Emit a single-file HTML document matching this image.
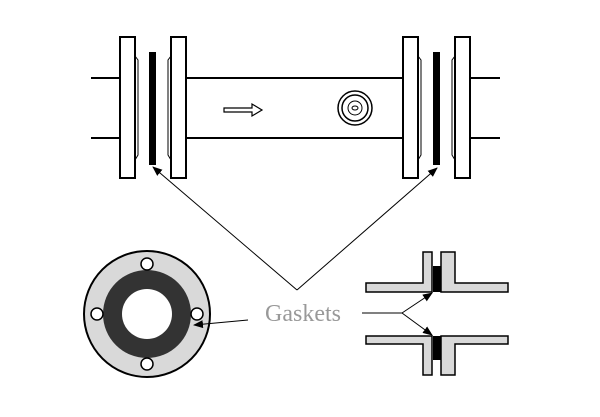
<!DOCTYPE html>
<html><head><style>body{margin:0;background:#fff}</style></head><body>
<svg width="600" height="412" viewBox="0 0 600 412" xmlns="http://www.w3.org/2000/svg">
<defs><marker id="a" markerWidth="10" markerHeight="8" refX="9" refY="4" orient="auto" markerUnits="userSpaceOnUse"><path d="M0,0 L10,4 L0,8 Z" fill="#000"/></marker></defs>
<g stroke="#000" stroke-width="2" fill="none">
<line x1="91" y1="78" x2="120" y2="78"/><line x1="91" y1="138" x2="120" y2="138"/>
<line x1="186" y1="78" x2="404" y2="78"/><line x1="186" y1="138" x2="404" y2="138"/>
<line x1="470" y1="78" x2="500" y2="78"/><line x1="470" y1="138" x2="500" y2="138"/>
<rect x="120" y="37" width="15" height="141" fill="#fff"/>
<rect x="171" y="37" width="15" height="141" fill="#fff"/>
<rect x="403" y="37" width="15" height="141" fill="#fff"/>
<rect x="455" y="37" width="15" height="141" fill="#fff"/>
<path d="M135,56 L138,60 L138,155 L135,160" stroke-width="1"/>
<path d="M171,56 L168,60 L168,155 L171,160" stroke-width="1"/>
<path d="M418,56 L421,60 L421,155 L418,160" stroke-width="1"/>
<path d="M455,56 L452,60 L452,155 L455,160" stroke-width="1"/>
</g>
<rect x="149" y="52" width="7" height="113" fill="#000"/>
<rect x="433" y="52" width="7" height="113" fill="#000"/>
<path d="M224,108 L252,108 L252,104 L262,110 L252,116 L252,112 L224,112 Z" fill="#fff" stroke="#000" stroke-width="1.2"/>
<g fill="none" stroke="#000" stroke-width="1.5">
<circle cx="355" cy="108" r="17"/><circle cx="355" cy="108" r="13"/><circle cx="355" cy="108" r="7" stroke-width="1"/>
<ellipse cx="355" cy="108" rx="3" ry="2" stroke-width="1"/>
</g>
<g stroke="#000" stroke-width="1" fill="none">
<line x1="297" y1="290" x2="153" y2="167" marker-end="url(#a)"/>
<line x1="297" y1="290" x2="437" y2="168" marker-end="url(#a)"/>
<line x1="362" y1="313" x2="402" y2="313"/>
<line x1="402" y1="313" x2="432" y2="293" marker-end="url(#a)"/>
<line x1="402" y1="313" x2="432" y2="335" marker-end="url(#a)"/>
</g>
<circle cx="147" cy="314" r="63" fill="#d9d9d9" stroke="#000" stroke-width="2"/>
<circle cx="147" cy="314" r="44" fill="#333"/>
<circle cx="147" cy="314" r="25" fill="#fff"/>
<g fill="#fff" stroke="#000" stroke-width="1.5">
<circle cx="147" cy="264" r="6"/><circle cx="147" cy="364" r="6"/><circle cx="97" cy="314" r="6"/><circle cx="197" cy="314" r="6"/>
</g>
<line x1="248" y1="320" x2="194" y2="325" stroke="#000" stroke-width="1" marker-end="url(#a)"/>
<g fill="#d9d9d9" stroke="#000" stroke-width="1.5">
<path d="M366,283 L423,283 L423,252 L432,252 L432,292 L366,292 Z"/>
<path d="M441,252 L455,252 L455,283 L508,283 L508,292 L441,292 Z"/>
<path d="M366,336 L432,336 L432,375 L423,375 L423,344 L366,344 Z"/>
<path d="M441,336 L508,336 L508,344 L455,344 L455,375 L441,375 Z"/>
</g>
<rect x="433" y="266" width="8" height="26" fill="#000"/>
<rect x="433" y="336" width="8" height="24" fill="#000"/>
<text x="265" y="321" font-family="Liberation Serif, serif" font-size="24" fill="#999">Gaskets</text>
</svg>
</body></html>
